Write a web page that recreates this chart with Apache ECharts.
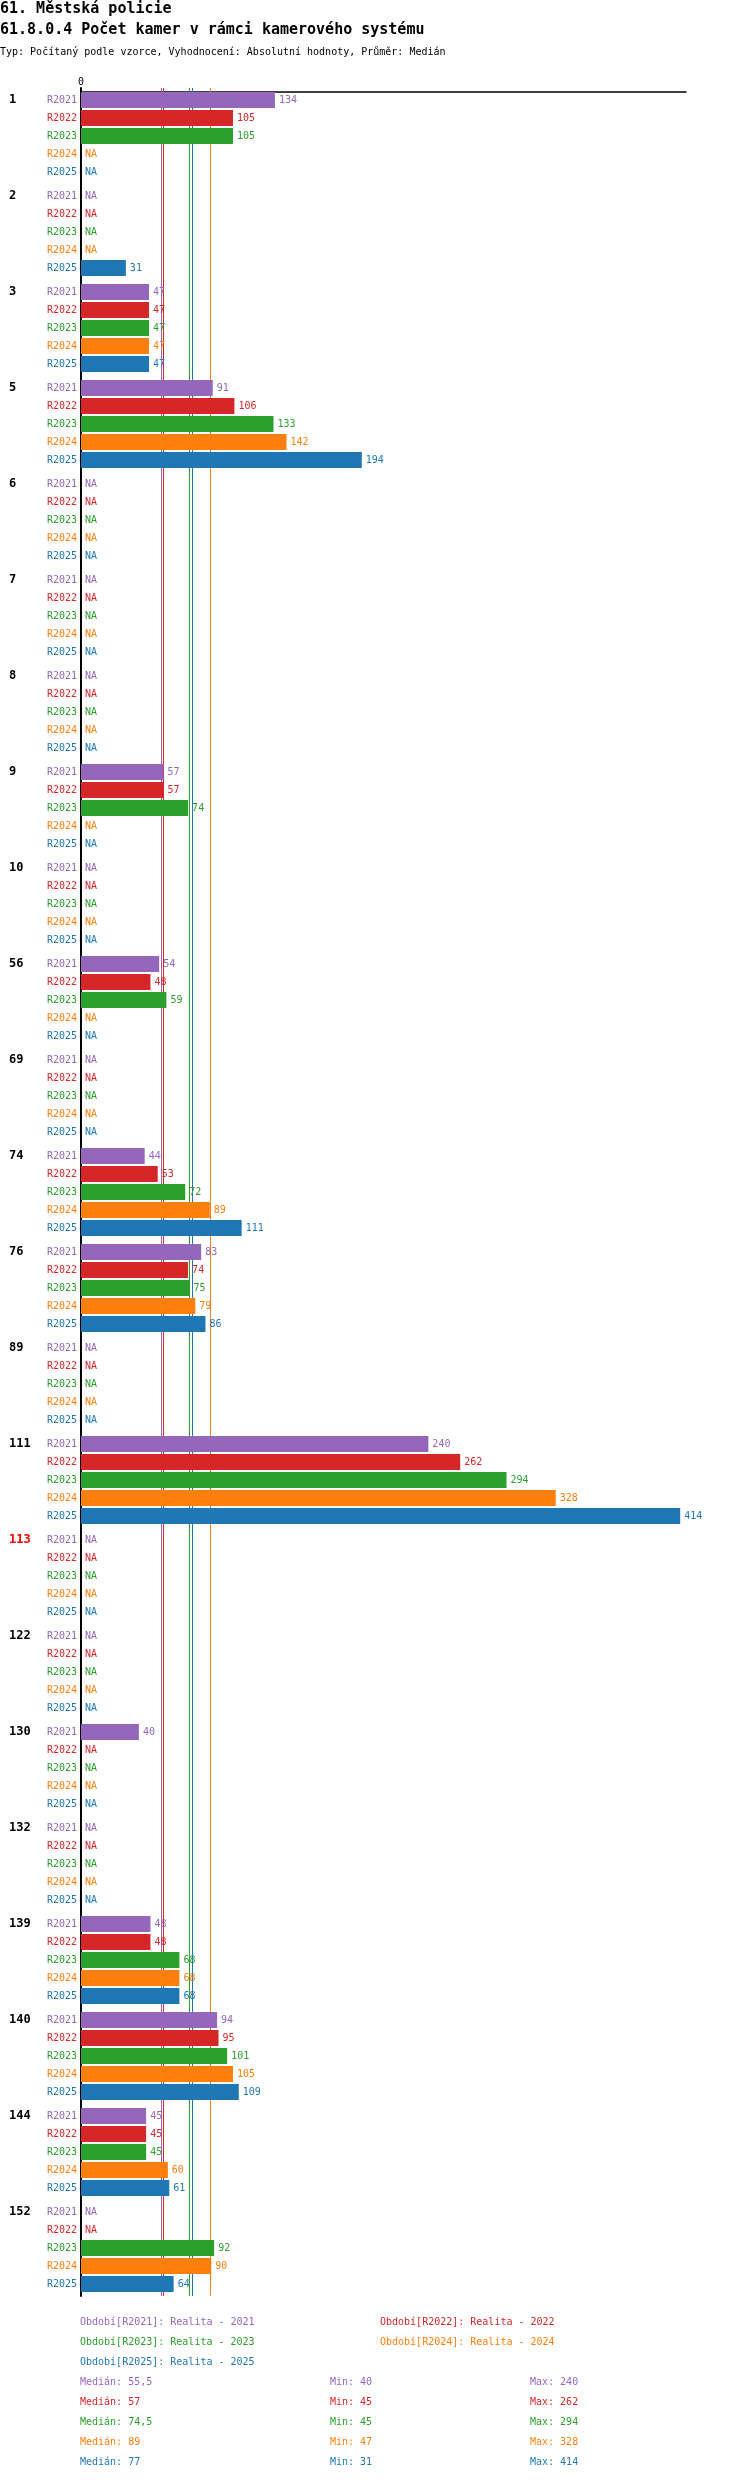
<!DOCTYPE html>
<html>
<head>
<meta charset="utf-8">
<script src="https://cdn.jsdelivr.net/npm/echarts@6/dist/echarts.min.js"></script>
<style>
  html, body { margin: 0; padding: 0; background: #fff; }
  #chart { width: 750px; height: 2480px; }
</style>
</head>
<body>
<div id="chart"></div>
<script>
// units (category labels), top to bottom
const units = ['1', '2', '3', '5', '6', '7', '8', '9', '10', '56', '69', '74', '76', '89',
  '111', '113', '122', '130', '132', '139', '140', '144', '152'];
const highlighted = ['113'];

const years = ['R2021', 'R2022', 'R2023', 'R2024', 'R2025'];
const yearNames = ['Realita - 2021', 'Realita - 2022', 'Realita - 2023', 'Realita - 2024', 'Realita - 2025'];
const colors = ['#9467bd', '#d62728', '#2ca02c', '#ff7f0e', '#1f77b4'];

// null = NA
const r2021 = [134, null, 47, 91, null, null, null, 57, null, 54, null, 44, 83, null, 240, null, null, 40, null, 48, 94, 45, null];
const r2022 = [105, null, 47, 106, null, null, null, 57, null, 48, null, 53, 74, null, 262, null, null, null, null, 48, 95, 45, null];
const r2023 = [105, null, 47, 133, null, null, null, 74, null, 59, null, 72, 75, null, 294, null, null, null, null, 68, 101, 45, 92];
const r2024 = [null, null, 47, 142, null, null, null, null, null, null, null, 89, 79, null, 328, null, null, null, null, 68, 105, 60, 90];
const r2025 = [null, 31, 47, 194, null, null, null, null, null, null, null, 111, 86, null, 414, null, null, null, null, 68, 109, 61, 64];
const values = [r2021, r2022, r2023, r2024, r2025];

const FONT = '"DejaVu Sans Mono", monospace';

function median(arr) {
  const v = arr.filter(x => x != null).sort((a, b) => a - b);
  const n = v.length;
  return n % 2 ? v[(n - 1) / 2] : (v[n / 2 - 1] + v[n / 2]) / 2;
}
function stats(arr) {
  const v = arr.filter(x => x != null);
  return { med: median(arr), min: Math.min(...v), max: Math.max(...v) };
}
const fmt = x => String(x).replace('.', ',');

const series = [];
years.forEach((y, i) => {
  const st = stats(values[i]);
  // holder for the row label at the zero line
  series.push({
    name: y + '_lbl',
    type: 'bar',
    stack: 's' + i,
    barWidth: 16,
    barGap: '12.5%',
    silent: true,
    data: units.map(() => 0),
    itemStyle: { color: 'transparent' },
    label: {
      show: true, position: 'left', distance: 4,
      formatter: y, color: colors[i], fontSize: 10, fontFamily: FONT
    },
    markLine: {
      silent: true, symbol: 'none', z: 1, animation: false,
      label: { show: false },
      lineStyle: { color: colors[i], width: 1, type: 'solid' },
      data: [{ xAxis: st.med }]
    }
  });
  series.push({
    name: y,
    type: 'bar',
    stack: 's' + i,
    barWidth: 16,
    barGap: '12.5%',
    z: 3,
    data: values[i].map(v => v == null ? 0 : v),
    itemStyle: { color: colors[i] },
    label: {
      show: true, position: 'right', distance: 4,
      color: colors[i], fontSize: 10, fontFamily: FONT,
      formatter: p => values[i][p.dataIndex] == null ? 'NA' : String(values[i][p.dataIndex])
    }
  });
});

// texts
const graphic = [];
function txt(x, y, text, fill, font) {
  graphic.push({ type: 'text', x: x, y: y, silent: true,
    style: { text: text, fill: fill, font: font, verticalAlign: 'middle', align: 'left' } });
}
txt(0, 9, '61. Městská policie', '#000', 'bold 15px ' + FONT);
txt(0, 30, '61.8.0.4 Počet kamer v rámci kamerového systému', '#000', 'bold 15px ' + FONT);
txt(0, 52, 'Typ: Počítaný podle vzorce, Vyhodnocení: Absolutní hodnoty, Průměr: Medián', '#000', '10px ' + FONT);

years.forEach((y, i) => {
  const col = i % 2, row = Math.floor(i / 2);
  txt(col ? 380 : 80, 2322 + row * 20, 'Období[' + y + ']: ' + yearNames[i], colors[i], '10px ' + FONT);
  const st = stats(values[i]);
  const yy = 2382 + i * 20;
  txt(80, yy, 'Medián: ' + fmt(st.med), colors[i], '10px ' + FONT);
  txt(330, yy, 'Min: ' + fmt(st.min), colors[i], '10px ' + FONT);
  txt(530, yy, 'Max: ' + fmt(st.max), colors[i], '10px ' + FONT);
});

const chart = echarts.init(document.getElementById('chart'), null, { renderer: 'canvas' });
chart.setOption({
  animation: false,
  backgroundColor: '#fff',
  grid: { left: 81, top: 88, width: 605, height: units.length * 96, containLabel: false },
  xAxis: {
    type: 'value',
    position: 'top',
    min: 0,
    max: 418,
    interval: 418,
    offset: -4,
    splitLine: { show: false },
    axisTick: { show: false },
    axisLine: { show: true, lineStyle: { color: '#000', width: 1.5 } },
    axisLabel: {
      margin: 5, color: '#000', fontSize: 10, fontFamily: FONT,
      formatter: v => v === 0 ? '0' : ''
    }
  },
  yAxis: {
    type: 'category',
    inverse: true,
    data: units,
    axisTick: { show: false },
    axisLine: { show: true, lineStyle: { color: '#000', width: 2 } },
    axisLabel: {
      interval: 0,
      align: 'left',
      verticalAlign: 'middle',
      margin: 72,
      lineHeight: 18,
      fontSize: 12,
      fontWeight: 'bold',
      fontFamily: FONT,
      // label sits on the first row of its group
      formatter: v => v + '\n \n \n \n ',
      color: v => highlighted.includes(v) ? '#ff0000' : '#000'
    }
  },
  series: series,
  graphic: graphic
});
</script>
</body>
</html>
